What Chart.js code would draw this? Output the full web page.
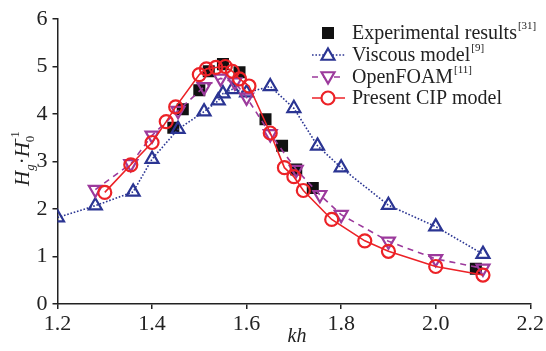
<!DOCTYPE html>
<html>
<head>
<meta charset="utf-8">
<script src="https://cdn.jsdelivr.net/npm/chart.js@4/dist/chart.umd.min.js"></script>
<style>
  html, body { margin: 0; padding: 0; background: #fff; }
  #wrap { width: 546px; height: 351px; }
</style>
</head>
<body>
<div id="wrap"><canvas id="waveChart"></canvas></div>
<script>
// Wave height amplification Hg/H0 against kh
const expKh = [1.445, 1.465, 1.50, 1.52, 1.55, 1.585, 1.64, 1.675, 1.705, 1.74, 2.085];
const expH  = [3.71, 4.10, 4.50, 4.90, 5.05, 4.88, 3.89, 3.33, 2.83, 2.44, 0.74];

const viscKh = [1.20, 1.28, 1.36, 1.40, 1.455, 1.51, 1.54, 1.55, 1.57, 1.60, 1.65, 1.70, 1.75, 1.80, 1.90, 2.00, 2.10];
const viscH  = [1.82, 2.07, 2.36, 3.05, 3.68, 4.05, 4.28, 4.43, 4.52, 4.45, 4.58, 4.12, 3.33, 2.87, 2.08, 1.63, 1.05];

const foamKh = [1.28, 1.355, 1.40, 1.455, 1.51, 1.545, 1.575, 1.60, 1.65, 1.705, 1.755, 1.80, 1.90, 2.00, 2.10];
const foamH  = [2.41, 2.95, 3.55, 4.07, 4.57, 4.75, 4.67, 4.35, 3.58, 2.83, 2.30, 1.88, 1.32, 0.95, 0.75];

const cipKh = [1.30, 1.355, 1.40, 1.43, 1.45, 1.50, 1.515, 1.535, 1.555, 1.57, 1.585, 1.605, 1.65, 1.68, 1.70, 1.72, 1.78, 1.85, 1.90, 2.00, 2.10];
const cipH  = [2.35, 2.93, 3.40, 3.84, 4.15, 4.83, 4.95, 4.98, 5.00, 4.90, 4.74, 4.59, 3.60, 2.87, 2.68, 2.39, 1.78, 1.33, 1.11, 0.79, 0.61];

const xTicks = [1.2, 1.4, 1.6, 1.8, 2.0, 2.2];
const yTicks = [0, 1, 2, 3, 4, 5, 6];

const BLUE = '#2b3593';
const PURPLE = '#9c3a9c';
const RED = '#ec2227';
const SERIF = '"Liberation Serif", "Times New Roman", serif';

function pts(xs, ys) {
    return xs.map((x, i) => ({ x: x, y: ys[i] }));
}

// legend rows: [label, superscript]
const legendRows = [
    ['Experimental results', '[31]'],
    ['Viscous model', '[9]'],
    ['OpenFOAM', '[11]'],
    ['Present CIP model', '']
];

function marker(ctx, style, x, y) {
    Chart.helpers.drawPoint(ctx, style, x, y);
}

const extras = {
    id: 'extras',
    afterDraw(chart) {
        const ctx = chart.ctx;
        ctx.save();

        // y axis title: Hg·H0^-1
        ctx.translate(22, 150);
        ctx.rotate(-Math.PI / 2);
        ctx.fillStyle = '#222';
        ctx.textBaseline = 'alphabetic';
        let x = -36;
        const base = 7;
        const seg = (txt, font, dy) => {
            ctx.font = font;
            ctx.fillText(txt, x, base + dy);
            x += ctx.measureText(txt).width;
        };
        seg('H', 'italic 21px ' + SERIF, 0);
        seg('g', 'italic 13px ' + SERIF, 5);
        seg('\u00b7', '21px ' + SERIF, 0);
        seg('H', 'italic 21px ' + SERIF, 0);
        const xSub = x;
        seg('0', '13px ' + SERIF, 5);
        x = xSub;
        seg('-1', '13px ' + SERIF, -10);
        ctx.restore();

        // x axis title
        ctx.save();
        ctx.fillStyle = '#222';
        ctx.font = 'italic 20px ' + SERIF;
        ctx.textAlign = 'center';
        ctx.textBaseline = 'middle';
        ctx.fillText('kh', 297, 337);
        ctx.restore();

        // legend
        ctx.save();
        const rowY = [33, 55, 77, 98];
        const mx = 328, lx0 = 312, lx1 = 345, tx = 352;
        // square
        ctx.fillStyle = '#111';
        ctx.fillRect(mx - 6, rowY[0] - 6, 12, 12);
        // dotted blue
        ctx.lineWidth = 1.6;
        ctx.strokeStyle = BLUE;
        ctx.setLineDash([1.6, 1.8]);
        ctx.beginPath(); ctx.moveTo(lx0, rowY[1]); ctx.lineTo(lx1, rowY[1]); ctx.stroke();
        // dashed purple
        ctx.strokeStyle = PURPLE;
        ctx.setLineDash([6, 5]);
        ctx.beginPath(); ctx.moveTo(lx0, rowY[2]); ctx.lineTo(lx1, rowY[2]); ctx.stroke();
        // solid red
        ctx.strokeStyle = RED;
        ctx.setLineDash([]);
        ctx.beginPath(); ctx.moveTo(lx0, rowY[3]); ctx.lineTo(lx1, rowY[3]); ctx.stroke();

        ctx.lineWidth = 2.2;
        ctx.fillStyle = '#fff';
        ctx.strokeStyle = BLUE;
        marker(ctx, { pointStyle: 'triangle', radius: 7.5, borderWidth: 2.2 }, mx, rowY[1] + 1);
        ctx.strokeStyle = PURPLE;
        marker(ctx, { pointStyle: 'triangle', rotation: 180, radius: 7.5, borderWidth: 2.2 }, mx, rowY[2] - 1);
        ctx.strokeStyle = RED;
        marker(ctx, { pointStyle: 'circle', radius: 6.5, borderWidth: 2.2 }, mx, rowY[3]);

        ctx.fillStyle = '#222';
        ctx.textBaseline = 'middle';
        legendRows.forEach((row, i) => {
            ctx.font = '20px ' + SERIF;
            ctx.fillText(row[0], tx, rowY[i] + 1);
            const w = ctx.measureText(row[0]).width;
            if (row[1]) {
                ctx.font = '11px ' + SERIF;
                ctx.fillText(row[1], tx + w + 1, rowY[i] - 7);
            }
        });
        ctx.restore();
    }
};

const ctx = document.getElementById('waveChart').getContext('2d');
const waveChart = new Chart(ctx, {
    type: 'line',
    data: {
        datasets: [{
            label: 'Present CIP model',
            data: pts(cipKh, cipH),
            borderColor: RED,
            borderWidth: 1.6,
            pointStyle: 'circle',
            pointRadius: 6.5,
            pointBorderWidth: 2.2,
            pointBorderColor: RED,
            pointBackgroundColor: 'rgba(255,255,255,0)',
            order: 0
        }, {
            label: 'OpenFOAM',
            data: pts(foamKh, foamH),
            borderColor: PURPLE,
            borderWidth: 1.6,
            borderDash: [6, 5],
            pointStyle: 'triangle',
            pointRotation: 180,
            pointRadius: 7.5,
            pointBorderWidth: 2.2,
            pointBorderColor: PURPLE,
            pointBackgroundColor: 'rgba(255,255,255,0)',
            order: 1
        }, {
            label: 'Viscous model',
            data: pts(viscKh, viscH),
            borderColor: BLUE,
            borderWidth: 1.6,
            borderDash: [1.6, 1.8],
            pointStyle: 'triangle',
            pointRadius: 7.5,
            pointBorderWidth: 2.2,
            pointBorderColor: BLUE,
            pointBackgroundColor: 'rgba(255,255,255,0)',
            order: 2
        }, {
            label: 'Experimental results',
            data: pts(expKh, expH),
            showLine: false,
            pointStyle: 'rect',
            pointRadius: 8.5,
            pointBorderWidth: 0,
            pointBackgroundColor: '#111',
            pointBorderColor: '#111',
            order: 3
        }]
    },
    options: {
        responsive: true,
        maintainAspectRatio: false,
        animation: false,
        layout: { padding: { top: 19, right: 13, left: 0, bottom: 0 } },
        plugins: {
            legend: { display: false },
            tooltip: { enabled: false }
        },
        scales: {
            x: {
                type: 'linear',
                min: 1.2,
                max: 2.2,
                afterBuildTicks: (s) => { s.ticks = xTicks.map(v => ({ value: v })); },
                afterFit: (s) => { s.height = 47; },
                border: { display: true, color: '#222', width: 1.5 },
                grid: { drawOnChartArea: false, drawTicks: true, tickLength: 5, color: '#222', lineWidth: 1.5 },
                ticks: {
                    color: '#222',
                    padding: 2,
                    maxRotation: 0,
                    font: { family: SERIF, size: 22 },
                    callback: (v) => v.toFixed(1)
                }
            },
            y: {
                min: 0,
                max: 6,
                afterBuildTicks: (s) => { s.ticks = yTicks.map(v => ({ value: v })); },
                afterFit: (s) => { s.width = 57.5; },
                border: { display: true, color: '#222', width: 1.5 },
                grid: { drawOnChartArea: false, drawTicks: true, tickLength: 5, color: '#222', lineWidth: 1.5 },
                ticks: {
                    color: '#222',
                    padding: 5,
                    font: { family: SERIF, size: 22 }
                }
            }
        }
    },
    plugins: [extras]
});
</script>
</body>
</html>
